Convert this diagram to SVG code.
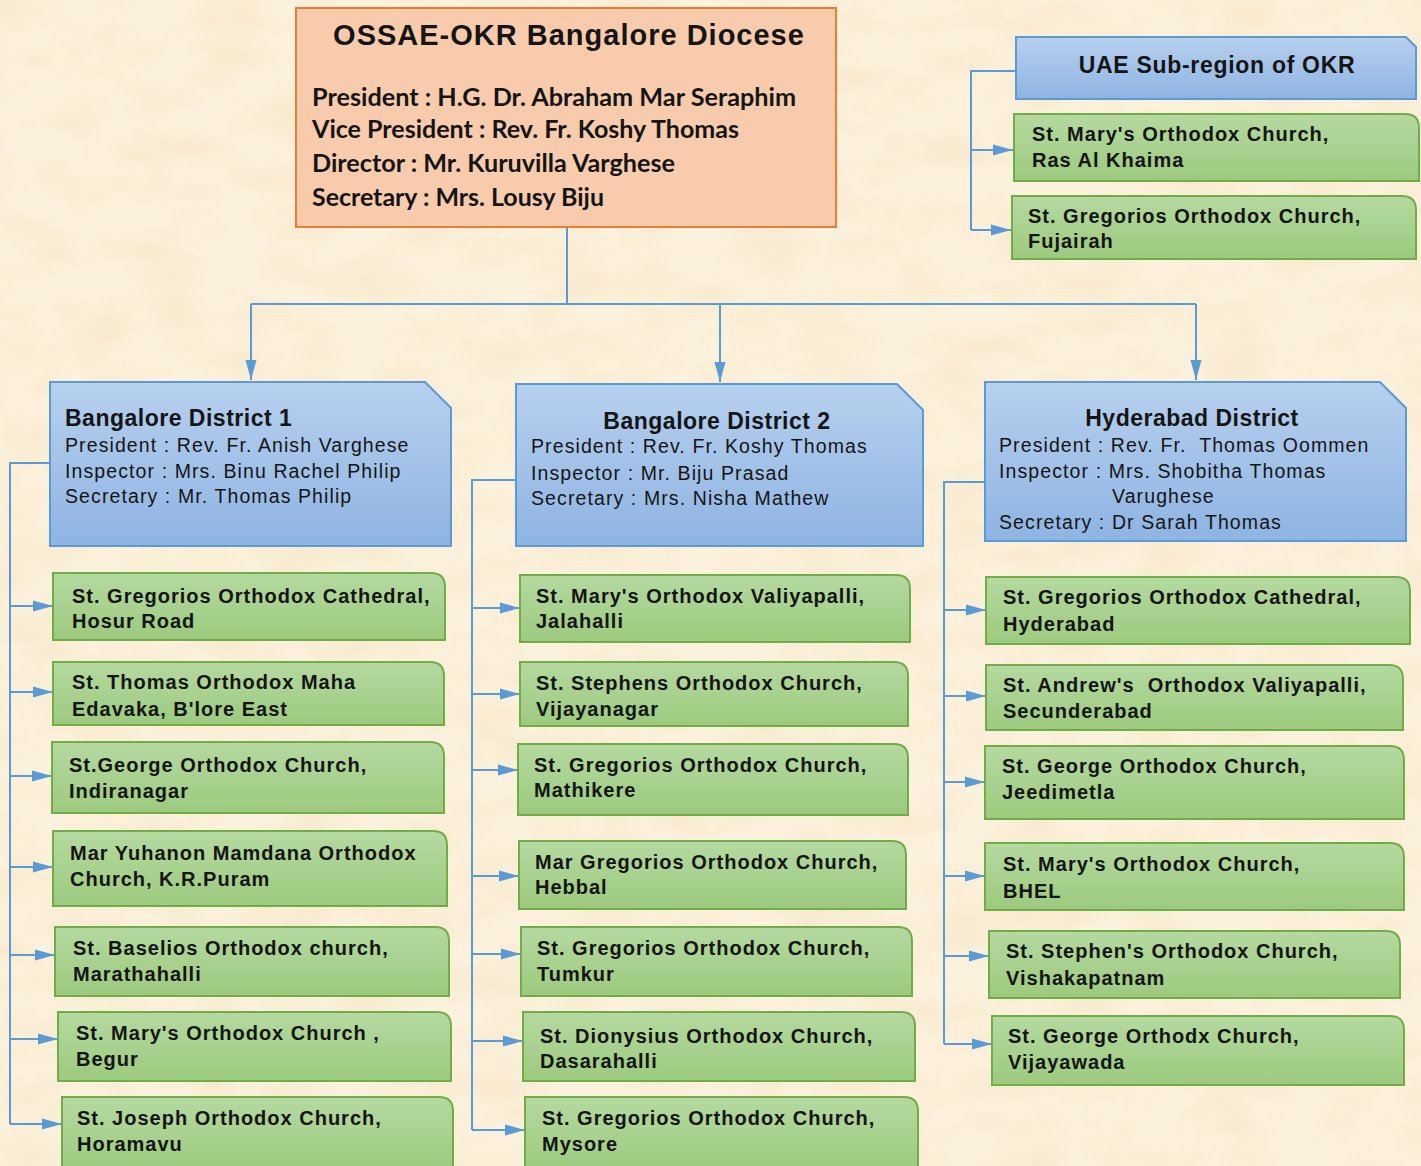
<svg xmlns="http://www.w3.org/2000/svg" width="1421" height="1166" viewBox="0 0 1421 1166">
<defs>
<linearGradient id="gg" x1="0" y1="0" x2="0" y2="1"><stop offset="0" stop-color="#b5d9a0"/><stop offset="1" stop-color="#9cca7e"/></linearGradient>
<linearGradient id="bg" x1="0" y1="0" x2="0" y2="1"><stop offset="0" stop-color="#b7d0ee"/><stop offset="1" stop-color="#8eb4e2"/></linearGradient>
<filter id="tex" x="0" y="0" width="100%" height="100%">
<feTurbulence type="fractalNoise" baseFrequency="0.015 0.03" numOctaves="3" seed="4"/>
<feColorMatrix type="matrix" values="0 0 0 0 0.88  0 0 0 0 0.74  0 0 0 0 0.5  1.2 0 0 0 -0.45"/>
</filter>
<marker id="ah" markerUnits="userSpaceOnUse" markerWidth="20" markerHeight="12" refX="20" refY="6" orient="auto">
<path d="M0,0.5 L20,6 L0,11.5 Z" fill="#5b9bd5"/>
</marker>
<style>
.g{fill:url(#gg);stroke:#70ad47;stroke-width:2}
.b{fill:url(#bg);stroke:#5b9bd5;stroke-width:2}
.t{font-family:"Liberation Sans",Arial,sans-serif;font-weight:bold;font-size:20px;letter-spacing:1px;fill:#151515}
.h{font-family:"Liberation Sans",Arial,sans-serif;font-weight:bold;font-size:23px;letter-spacing:0.5px;fill:#151515}
.r{font-family:"Liberation Sans",Arial,sans-serif;font-size:19.5px;letter-spacing:1.1px;fill:#151515}
.k{font-family:Lato,"Open Sans",sans-serif;font-weight:bold;font-size:24px;fill:#151515}
.c{fill:none;stroke:#5b9bd5;stroke-width:2}
.a{fill:none;stroke:#5b9bd5;stroke-width:2;marker-end:url(#ah)}
</style>
</defs>
<rect width="1421" height="1166" fill="#fcf1dc"/>
<rect width="1421" height="1166" filter="url(#tex)" opacity="0.7"/>

<g id="connectors">
<path class="c" d="M567,227 V304 M251,304 H1196"/>
<path class="a" d="M251,304 V380"/>
<path class="a" d="M720,304 V382"/>
<path class="a" d="M1196,304 V380"/>
<path class="c" d="M1016,71 H971 V230"/>
<path class="a" d="M971,150 H1013"/>
<path class="a" d="M971,230 H1011"/>
<path class="c" d="M50,463 H10 V1124"/>
<path class="a" d="M10,606 H53"/>
<path class="a" d="M10,692 H53"/>
<path class="a" d="M10,776 H52"/>
<path class="a" d="M10,867 H53"/>
<path class="a" d="M10,955 H55"/>
<path class="a" d="M10,1039 H58"/>
<path class="a" d="M10,1124 H62"/>
<path class="c" d="M516,480 H472 V1130"/>
<path class="a" d="M472,608 H520"/>
<path class="a" d="M472,694 H520"/>
<path class="a" d="M472,770 H518"/>
<path class="a" d="M472,876 H519"/>
<path class="a" d="M472,954 H521"/>
<path class="a" d="M472,1041 H523"/>
<path class="a" d="M472,1130 H525"/>
<path class="c" d="M985,482 H944 V1044"/>
<path class="a" d="M944,610 H986"/>
<path class="a" d="M944,696 H986"/>
<path class="a" d="M944,782 H985"/>
<path class="a" d="M944,876 H985"/>
<path class="a" d="M944,956 H989"/>
<path class="a" d="M944,1044 H992"/>
</g>

<g id="diocese">
<rect x="296" y="8" width="540" height="219" fill="#f8cbad" stroke="#ed7d31" stroke-width="2"/>
<text x="569" y="45" text-anchor="middle" font-family="Liberation Sans,Arial,sans-serif" font-weight="bold" font-size="29" letter-spacing="1" fill="#151515">OSSAE-OKR Bangalore Diocese</text>
<text class="k" x="312" y="106" textLength="484" lengthAdjust="spacingAndGlyphs">President : H.G. Dr. Abraham Mar Seraphim</text>
<text class="k" x="312" y="138" textLength="427" lengthAdjust="spacingAndGlyphs">Vice President : Rev. Fr. Koshy Thomas</text>
<text class="k" x="312" y="172" textLength="363" lengthAdjust="spacingAndGlyphs">Director : Mr. Kuruvilla Varghese</text>
<text class="k" x="312" y="206" textLength="292" lengthAdjust="spacingAndGlyphs">Secretary : Mrs. Lousy Biju</text>
</g>

<g id="uae">
<path class="b" d="M1016,37 H1406 L1416,47 V99 H1016 Z"/>
<text class="h" x="1217" y="73" text-anchor="middle" style="letter-spacing:0.7px">UAE Sub-region of OKR</text>
</g>
<g id="uae-rak">
<path class="g" d="M1014,114 H1405 Q1419,114 1419,128 V181 H1014 Z"/>
<text class="t" x="1032" y="141">St. Mary's Orthodox Church,</text>
<text class="t" x="1032" y="167">Ras Al Khaima</text>
</g>
<g id="uae-fuj">
<path class="g" d="M1012,196 H1402 Q1416,196 1416,210 V259 H1012 Z"/>
<text class="t" x="1028" y="223">St. Gregorios Orthodox Church,</text>
<text class="t" x="1028" y="248">Fujairah</text>
</g>

<g id="district1">
<path class="b" d="M50,382 H425 L451,408 V546 H50 Z"/>
<text class="h" x="65" y="426">Bangalore District 1</text>
<text class="r" x="65" y="452">President : Rev. Fr. Anish Varghese</text>
<text class="r" x="65" y="478">Inspector : Mrs. Binu Rachel Philip</text>
<text class="r" x="65" y="503">Secretary : Mr. Thomas Philip</text>
</g>
<g id="d1-hosur">
<path class="g" d="M53,573 H431 Q445,573 445,587 V640 H53 Z"/>
<text class="t" x="72" y="603">St. Gregorios Orthodox Cathedral,</text>
<text class="t" x="72" y="628">Hosur Road</text>
</g>
<g id="d1-blore-east">
<path class="g" d="M53,662 H430 Q444,662 444,676 V725 H53 Z"/>
<text class="t" x="72" y="689">St. Thomas Orthodox Maha</text>
<text class="t" x="72" y="716">Edavaka, B'lore East</text>
</g>
<g id="d1-indiranagar">
<path class="g" d="M52,742 H430 Q444,742 444,756 V813 H52 Z"/>
<text class="t" x="69" y="772">St.George Orthodox Church,</text>
<text class="t" x="69" y="798">Indiranagar</text>
</g>
<g id="d1-krpuram">
<path class="g" d="M53,831 H433 Q447,831 447,845 V906 H53 Z"/>
<text class="t" x="70" y="860">Mar Yuhanon Mamdana Orthodox</text>
<text class="t" x="70" y="886">Church, K.R.Puram</text>
</g>
<g id="d1-marathahalli">
<path class="g" d="M55,927 H435 Q449,927 449,941 V996 H55 Z"/>
<text class="t" x="73" y="955">St. Baselios Orthodox church,</text>
<text class="t" x="73" y="981">Marathahalli</text>
</g>
<g id="d1-begur">
<path class="g" d="M58,1012 H437 Q451,1012 451,1026 V1081 H58 Z"/>
<text class="t" x="76" y="1040">St. Mary's Orthodox Church ,</text>
<text class="t" x="76" y="1066">Begur</text>
</g>
<g id="d1-horamavu">
<path class="g" d="M62,1097 H439 Q453,1097 453,1111 V1172 H62 Z"/>
<text class="t" x="77" y="1125">St. Joseph Orthodox Church,</text>
<text class="t" x="77" y="1151">Horamavu</text>
</g>

<g id="district2">
<path class="b" d="M516,384 H897 L923,410 V546 H516 Z"/>
<text class="h" x="717" y="429" text-anchor="middle">Bangalore District 2</text>
<text class="r" x="531" y="453">President : Rev. Fr. Koshy Thomas</text>
<text class="r" x="531" y="480">Inspector : Mr. Biju Prasad</text>
<text class="r" x="531" y="505">Secretary : Mrs. Nisha Mathew</text>
</g>
<g id="d2-jalahalli">
<path class="g" d="M520,575 H896 Q910,575 910,589 V642 H520 Z"/>
<text class="t" x="536" y="603">St. Mary's Orthodox Valiyapalli,</text>
<text class="t" x="536" y="628">Jalahalli</text>
</g>
<g id="d2-vijayanagar">
<path class="g" d="M520,662 H894 Q908,662 908,676 V726 H520 Z"/>
<text class="t" x="536" y="690">St. Stephens Orthodox Church,</text>
<text class="t" x="536" y="716">Vijayanagar</text>
</g>
<g id="d2-mathikere">
<path class="g" d="M518,744 H894 Q908,744 908,758 V815 H518 Z"/>
<text class="t" x="534" y="772">St. Gregorios Orthodox Church,</text>
<text class="t" x="534" y="797">Mathikere</text>
</g>
<g id="d2-hebbal">
<path class="g" d="M519,841 H892 Q906,841 906,855 V909 H519 Z"/>
<text class="t" x="535" y="869">Mar Gregorios Orthodox Church,</text>
<text class="t" x="535" y="894">Hebbal</text>
</g>
<g id="d2-tumkur">
<path class="g" d="M521,927 H898 Q912,927 912,941 V996 H521 Z"/>
<text class="t" x="537" y="955">St. Gregorios Orthodox Church,</text>
<text class="t" x="537" y="981">Tumkur</text>
</g>
<g id="d2-dasarahalli">
<path class="g" d="M523,1012 H901 Q915,1012 915,1026 V1081 H523 Z"/>
<text class="t" x="540" y="1043">St. Dionysius Orthodox Church,</text>
<text class="t" x="540" y="1068">Dasarahalli</text>
</g>
<g id="d2-mysore">
<path class="g" d="M525,1097 H904 Q918,1097 918,1111 V1172 H525 Z"/>
<text class="t" x="542" y="1125">St. Gregorios Orthodox Church,</text>
<text class="t" x="542" y="1151">Mysore</text>
</g>

<g id="hyderabad">
<path class="b" d="M985,382 H1380 L1406,408 V541 H985 Z"/>
<text class="h" x="1192" y="426" text-anchor="middle">Hyderabad District</text>
<text class="r" x="999" y="452" xml:space="preserve">President : Rev. Fr.  Thomas Oommen</text>
<text class="r" x="999" y="478">Inspector : Mrs. Shobitha Thomas</text>
<text class="r" x="1112" y="503">Varughese</text>
<text class="r" x="999" y="529">Secretary : Dr Sarah Thomas</text>
</g>
<g id="h-hyderabad">
<path class="g" d="M986,577 H1396 Q1410,577 1410,591 V644 H986 Z"/>
<text class="t" x="1003" y="604">St. Gregorios Orthodox Cathedral,</text>
<text class="t" x="1003" y="631">Hyderabad</text>
</g>
<g id="h-secunderabad">
<path class="g" d="M986,665 H1389 Q1403,665 1403,679 V730 H986 Z"/>
<text class="t" x="1003" y="692" xml:space="preserve">St. Andrew's  Orthodox Valiyapalli,</text>
<text class="t" x="1003" y="718">Secunderabad</text>
</g>
<g id="h-jeedimetla">
<path class="g" d="M985,746 H1390 Q1404,746 1404,760 V819 H985 Z"/>
<text class="t" x="1002" y="773">St. George Orthodox Church,</text>
<text class="t" x="1002" y="799">Jeedimetla</text>
</g>
<g id="h-bhel">
<path class="g" d="M985,843 H1390 Q1404,843 1404,857 V910 H985 Z"/>
<text class="t" x="1003" y="871">St. Mary's Orthodox Church,</text>
<text class="t" x="1003" y="898">BHEL</text>
</g>
<g id="h-vishakapatnam">
<path class="g" d="M989,931 H1386 Q1400,931 1400,945 V998 H989 Z"/>
<text class="t" x="1006" y="958">St. Stephen's Orthodox Church,</text>
<text class="t" x="1006" y="985">Vishakapatnam</text>
</g>
<g id="h-vijayawada">
<path class="g" d="M992,1016 H1390 Q1404,1016 1404,1030 V1085 H992 Z"/>
<text class="t" x="1008" y="1043">St. George Orthodx Church,</text>
<text class="t" x="1008" y="1069">Vijayawada</text>
</g>
</svg>
